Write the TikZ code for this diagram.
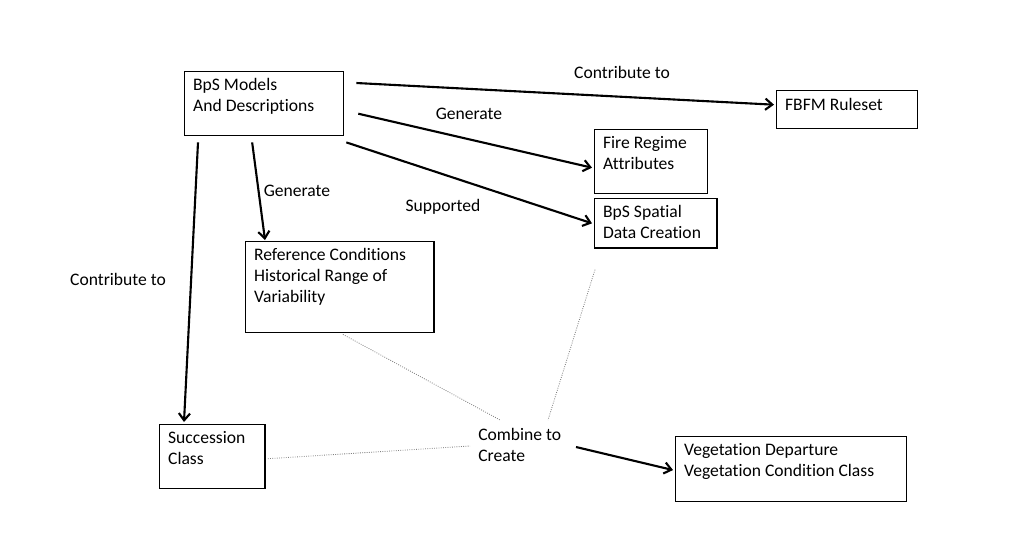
\documentclass[tikz,border=0pt]{standalone}
\usepackage{fontspec}
\setmainfont[Ligatures=NoCommon]{Carlito}
\usetikzlibrary{arrows.meta}

\newcommand{\boxtxt}[3]{\parbox[t][#2][t]{#1}{\raggedright #3}}

\begin{document}
\begin{tikzpicture}[x=0.025cm, y=-0.025cm,
	blok/.style={draw, line width=1pt, anchor=north west, inner xsep=6pt, inner ysep=4.5pt, font=\fontsize{12.5}{15}\selectfont},
	lbl/.style={font=\fontsize{12.5}{15}\selectfont, inner sep=0pt},
	arr/.style={-{Straight Barb[length=5pt,width=8pt]}, line width=1.5pt},
	dots/.style={densely dotted, gray, line width=0.6pt}]
	\useasboundingbox (0,0) rectangle (1029,554);

	\node[blok] (bps) at (184,71) {\boxtxt{101pt}{36.5pt}{BpS Models\\And Descriptions}};
	\node[blok, inner ysep=5.5pt] (fbfm) at (776,90) {\boxtxt{88pt}{16pt}{FBFM Ruleset}};
	\node[blok] (fire) at (594,129) {\boxtxt{68pt}{36.5pt}{Fire Regime\\Attributes}};
	\node[blok] (spatial) at (594,198) {\boxtxt{75pt}{26pt}{BpS Spatial\\Data Creation}};
	\node[blok] (ref) at (245,241) {\boxtxt{122pt}{55.7pt}{Reference Conditions\\Historical Range of\\Variability}};
	\node[blok] (succ) at (159,424) {\boxtxt{63pt}{36.5pt}{Succession\\Class}};
	\node[blok] (veg) at (675,436) {\boxtxt{152pt}{37pt}{Vegetation Departure\\Vegetation Condition Class}};
	\node[lbl, anchor=north west, align=left] (comb) at (478,428) {Combine to\\Create};

	\node[lbl] (l1) at (622,72) {Contribute to};
	\node[lbl] (l2) at (469,114) {Generate};
	\node[lbl] (l3) at (443,207) {Supported};
	\node[lbl] (l4) at (297,191) {Generate};
	\node[lbl] (l5) at (118,279) {Contribute to};

	\draw[arr] ([shift={(12,12)}]bps.north east) -- ([shift={(-2,-5)}]fbfm.west);
	\draw[arr] ([shift={(14,10)}]bps.east) -- ([shift={(-2,6)}]fire.west);
	\draw[arr] ([shift={(2,6)}]bps.south east) -- ([shift={(-2,0)}]spatial.west);
	\draw[arr] ([shift={(-12,6)}]bps.south) -- ([shift={(20,-1)}]ref.north west);
	\draw[arr] ([shift={(14,6)}]bps.south west) -- ([shift={(25,-2)}]succ.north west);
	\draw[arr] ([shift={(98,19)}]comb.north west) -- ([shift={(-2,1)}]veg.west);

	\draw[dots] ([shift={(3,1)}]ref.south) -- ([shift={(22,-8)}]comb.north west);
	\draw[dots] ([shift={(1,21)}]spatial.south west) -- ([shift={(70,-8)}]comb.north west);
	\draw[dots] ([shift={(2,2)}]succ.east) -- ([shift={(-8,18)}]comb.north west);
\end{tikzpicture}
\end{document}
